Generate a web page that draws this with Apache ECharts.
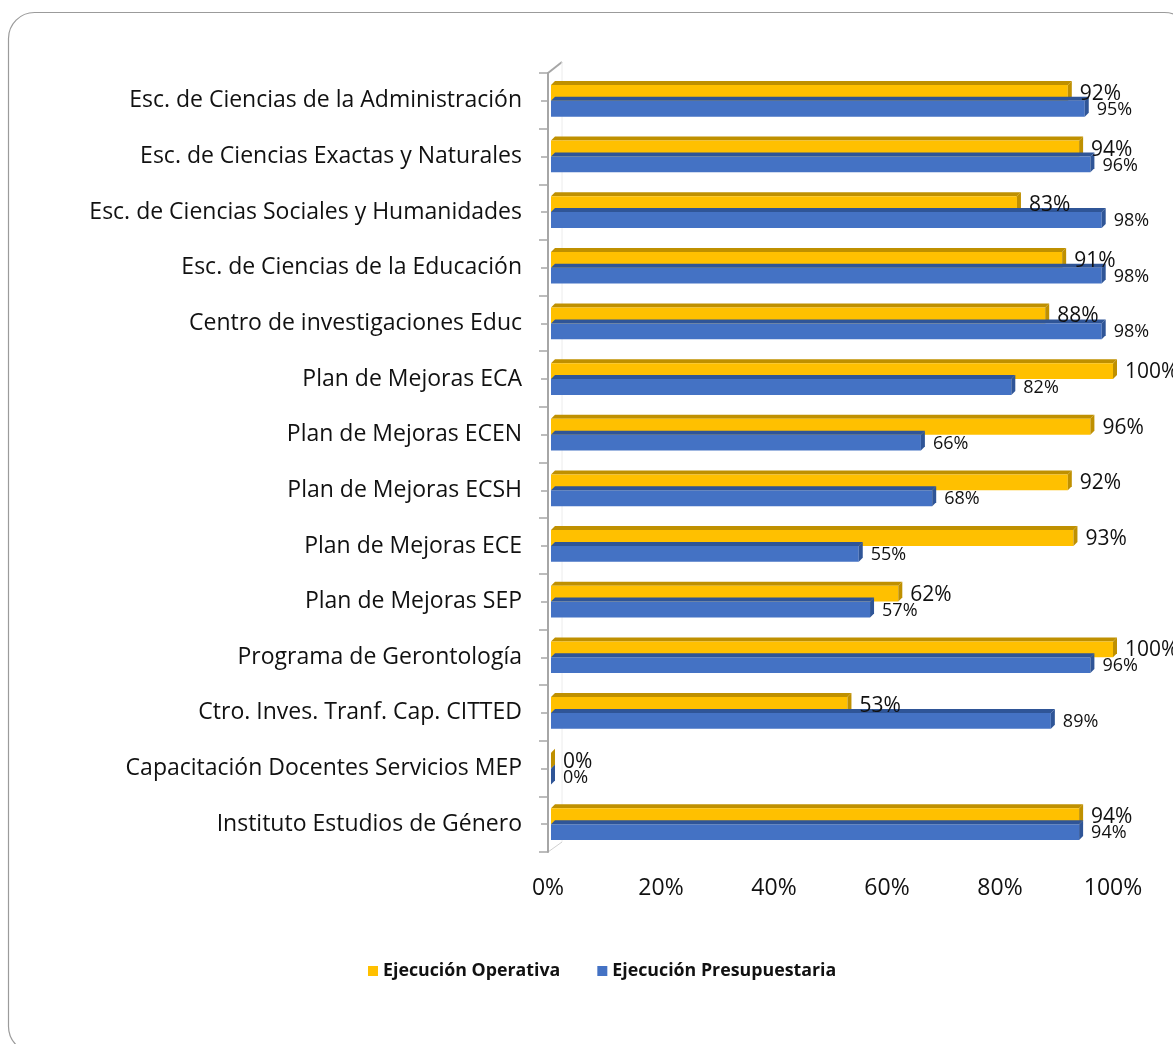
<!DOCTYPE html>
<html>
<head>
<meta charset="utf-8">
<script src="https://cdn.jsdelivr.net/npm/echarts@6/dist/echarts.min.js"></script>
<style>
  html, body { margin: 0; padding: 0; background: #fff; }
  #chart { width: 1173px; height: 1044px; }
</style>
</head>
<body>
<div id="chart"></div>
<script>
// categorias (de arriba hacia abajo)
const categories = [
  'Esc. de Ciencias de la Administración',
  'Esc. de Ciencias Exactas y Naturales',
  'Esc. de Ciencias Sociales y Humanidades',
  'Esc. de Ciencias de la Educación',
  'Centro de investigaciones Educ',
  'Plan de Mejoras ECA',
  'Plan de Mejoras ECEN',
  'Plan de Mejoras ECSH',
  'Plan de Mejoras ECE',
  'Plan de Mejoras SEP',
  'Programa de Gerontología',
  'Ctro. Inves. Tranf. Cap. CITTED',
  'Capacitación Docentes Servicios MEP',
  'Instituto Estudios de Género'
]
const operativa =    [92, 94, 83, 91, 88, 100, 96, 92, 93, 62, 100, 53, 0, 94]
const presupuestaria = [95, 96, 98, 98, 98, 82, 66, 68, 55, 57, 96, 89, 0, 94]
const xTicks = [0, 20, 40, 60, 80, 100]

const FONT = '"Open Sans", "Liberation Sans", sans-serif'
const DEPTH = 4

// barra con efecto 3D: cara frontal, cara superior y extremo derecho
const make3dBar = (front, top, side, upper, labelSize) => (params, api) => {
  const v = api.value(0)
  const cat = api.value(1)
  const p0 = api.coord([0, cat])
  const p1 = api.coord([v, cat])
  const band = api.size([0, 1])[1]
  const bh = band * 0.285
  const x0 = p0[0] + 3
  const x1 = Math.max(p1[0], x0)
  const yTop = upper ? p0[1] - bh : p0[1]
  const yBot = yTop + bh
  return {
    type: 'group',
    children: [
      {
        type: 'polygon',
        shape: { points: [[x0, yTop], [x0 + DEPTH, yTop - DEPTH], [x1 + DEPTH, yTop - DEPTH], [x1, yTop]] },
        style: { fill: top }
      },
      {
        type: 'rect',
        shape: { x: x0, y: yTop, width: x1 - x0, height: bh },
        style: { fill: front }
      },
      {
        type: 'polygon',
        shape: { points: [[x1, yTop], [x1 + DEPTH, yTop - DEPTH], [x1 + DEPTH, yBot - DEPTH], [x1, yBot]] },
        style: { fill: side }
      },
      {
        type: 'text',
        x: x1 + 12,
        y: (yTop + yBot) / 2 + 1,
        style: {
          text: v + '%',
          fontSize: labelSize,
          fontFamily: FONT,
          fill: '#111',
          verticalAlign: 'middle',
          align: 'left'
        },
        z2: 10
      }
    ]
  }
}

const chart = echarts.init(document.getElementById('chart'))
chart.setOption({
  backgroundColor: '#fff',
  animation: false,
  graphic: [{
    type: 'rect',
    shape: { x: 8.5, y: 12.5, width: 1182, height: 1040, r: 26 },
    style: { fill: 'none', stroke: '#9b9b9b', lineWidth: 1.2 },
    z: -10
  }, {
    type: 'line',
    shape: { x1: 548, y1: 73, x2: 562, y2: 62 },
    style: { stroke: '#a6a6a6', lineWidth: 2 }
  }, {
    type: 'line',
    shape: { x1: 548, y1: 852, x2: 562, y2: 842 },
    style: { stroke: '#d0d0d0', lineWidth: 1 }
  }, {
    type: 'line',
    shape: { x1: 562, y1: 62, x2: 562, y2: 842 },
    style: { stroke: '#ececec', lineWidth: 1 }
  }],
  legend: {
    left: 363,
    top: 957,
    itemWidth: 10,
    itemHeight: 10,
    itemGap: 37,
    icon: 'rect',
    textStyle: { fontFamily: FONT, fontWeight: 'bold', fontSize: 17.8, color: '#111' },
    data: ['Ejecución Operativa', 'Ejecución Presupuestaria']
  },
  grid: { left: 548, right: 60, top: 73, bottom: 192 },
  xAxis: {
    type: 'value',
    min: 0,
    max: 100,
    interval: 20,
    axisLine: { show: false },
    axisTick: { show: false },
    splitLine: { show: false },
    axisLabel: {
      formatter: v => xTicks.includes(v) ? v + '%' : '',
      fontFamily: FONT,
      fontSize: 23,
      color: '#111',
      margin: 25
    }
  },
  yAxis: [{
    type: 'category',
    data: categories,
    inverse: true,
    axisLine: { show: true, lineStyle: { color: '#a6a6a6', width: 2 } },
    axisTick: { show: true, length: 9, lineStyle: { color: '#a6a6a6', width: 1.5 } },
    axisLabel: { fontFamily: FONT, fontSize: 23, color: '#111', margin: 26 }
  }, {
    type: 'value',
    min: 0,
    max: 14,
    interval: 0.5,
    position: 'left',
    axisLine: { show: false },
    axisTick: { show: true, length: 7, lineStyle: { color: '#a6a6a6', width: 1.5 } },
    axisLabel: { show: false },
    splitLine: { show: false }
  }],
  series: [{
    name: 'Ejecución Operativa',
    type: 'custom',
    yAxisIndex: 0,
    itemStyle: { color: '#FFC000' },
    encode: { x: 0, y: 1 },
    renderItem: make3dBar('#FFC000', '#BF9000', '#BF9000', true, 21),
    data: operativa.map((v, i) => [v, i])
  }, {
    name: 'Ejecución Presupuestaria',
    type: 'custom',
    yAxisIndex: 0,
    itemStyle: { color: '#4472C4' },
    encode: { x: 0, y: 1 },
    renderItem: make3dBar('#4472C4', '#2F5597', '#2F5597', false, 18),
    data: presupuestaria.map((v, i) => [v, i])
  }]
})
</script>
</body>
</html>
